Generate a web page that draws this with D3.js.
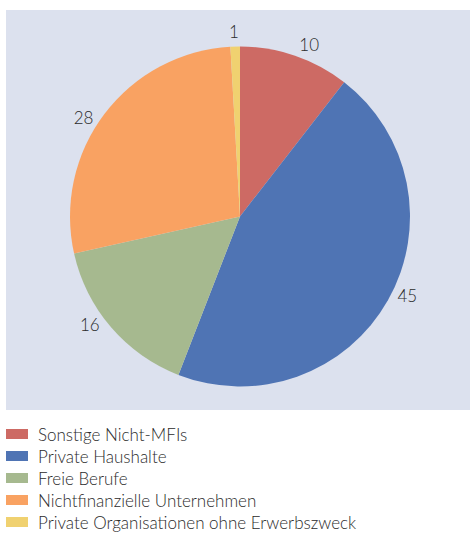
<!DOCTYPE html>
<html>
<head>
<meta charset="utf-8">
<script src="https://cdn.jsdelivr.net/npm/d3@7"></script>
<style>
  body { margin: 0; background: #fff; }
  svg text { font-family: Lato, "Open Sans", sans-serif; font-weight: 300; fill: #2b2b2b; }
</style>
</head>
<body>
<svg id="chart"></svg>
<script>
// shares in percent
var categories = ['Sonstige Nicht-MFIs', 'Private Haushalte', 'Freie Berufe', 'Nichtfinanzielle Unternehmen', 'Private Organisationen ohne Erwerbszweck'];
var values = [10.5, 45.4, 15.6, 27.6, 0.9];
var labels = ['10', '45', '16', '28', '1'];
var colors = ['#cd6a64', '#4f74b4', '#a6b98f', '#f9a262', '#f0d170'];

var draw = function(){
    var width = 470, height = 536;
    var svg = d3.select('svg#chart')
    .attr('width', width)
    .attr('height', height);

    // panel
    svg.append('rect')
    .attr('x', 6).attr('y', 10)
    .attr('width', 464).attr('height', 400)
    .attr('fill', '#dce1ee');

    var cx = 240, cy = 216.5, r = 170;
    var data = categories.map(function(c, i){ return {name: c, value: values[i], label: labels[i], color: colors[i]}; });

    var pie = d3.pie().sort(null).value(function(d){ return d.value; });
    var arc = d3.arc().innerRadius(0).outerRadius(r);
    var arcs = pie(data);

    var g = svg.append('g').attr('transform', 'translate(' + cx + ',' + cy + ')');
    g.selectAll('path')
    .data(arcs)
    .enter().append('path')
    .attr('d', arc)
    .attr('fill', function(d){ return d.data.color; });

    // labels outside, pushed a little toward the horizontal like excel does
    var lr = 185;
    function labelAngle(d){
        var a = (d.startAngle + d.endAngle) / 2;
        return a + (5 * Math.PI / 180) * Math.sin(2 * a);
    }
    g.selectAll('text.lbl')
    .data(arcs)
    .enter().append('text')
    .attr('class', 'lbl')
    .attr('x', function(d){ return lr * Math.sin(labelAngle(d)); })
    .attr('y', function(d){ return -lr * Math.cos(labelAngle(d)); })
    .attr('text-anchor', 'middle')
    .attr('dominant-baseline', 'central')
    .style('font-size', '17px')
    .text(function(d){ return d.data.label; });

    // legend
    var y = d3.scaleBand().domain(categories).range([423, 533]);
    var leg = svg.append('g').selectAll('g')
    .data(data)
    .enter().append('g')
    .attr('transform', function(d){ return 'translate(6,' + (y(d.name) + y.bandwidth() / 2) + ')'; });
    leg.append('rect')
    .attr('x', 0).attr('y', -5)
    .attr('width', 22).attr('height', 10)
    .attr('fill', function(d){ return d.color; });
    leg.append('text')
    .attr('x', 32).attr('y', 0)
    .attr('dominant-baseline', 'central')
    .style('font-size', '17px')
    .text(function(d){ return d.name; });
};

draw();
</script>
</body>
</html>
